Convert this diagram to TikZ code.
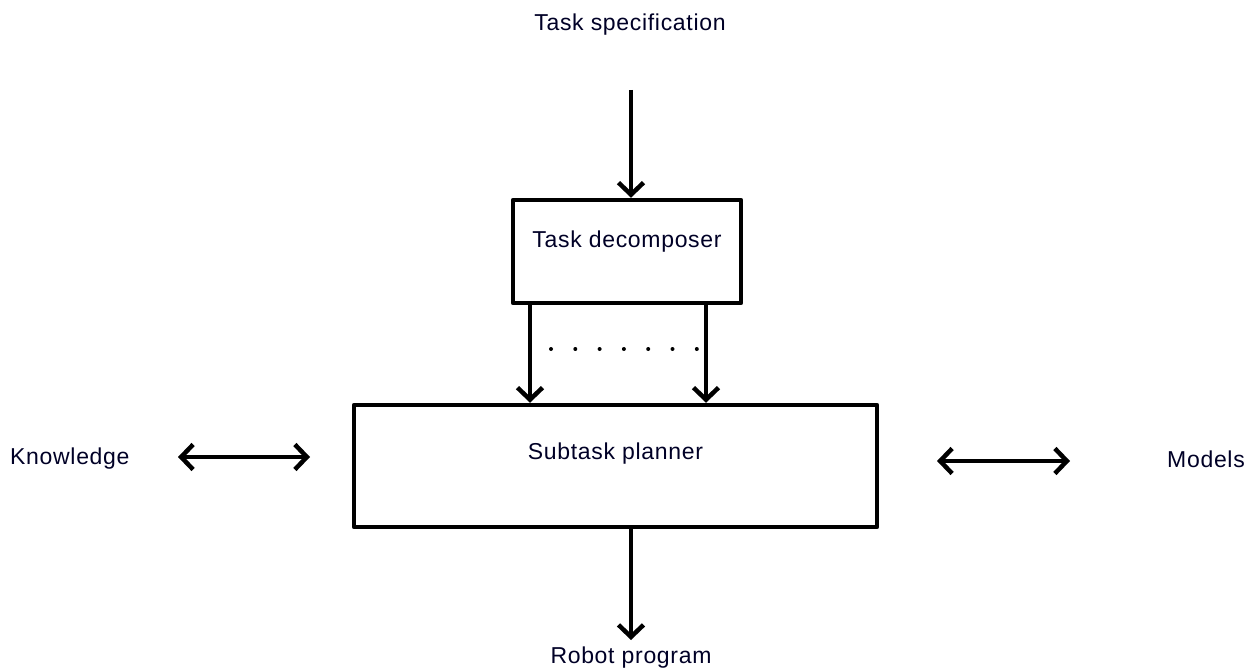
\documentclass[tikz,border=0pt]{standalone}
\usepackage{fontspec}
\setmainfont{Liberation Sans}[LetterSpace=3]
\usetikzlibrary{arrows.meta}
\begin{document}
\begin{tikzpicture}[x=1pt,y=-1pt,
  box/.style={draw, line width=4.5pt, inner sep=0pt, line join=round},
  lbl/.style={font=\fontsize{23}{27}\selectfont, text=black!85!blue, inner sep=0pt},
  tip/.tip={Straight Barb[length=12pt,width=25pt,line width=4.5pt]},
  arr/.style={line width=4.5pt, -tip},
  darr/.style={line width=4.5pt, tip-tip}
]
\useasboundingbox (0,0) rectangle (1252,671);

% blocks
\node[box, minimum width=228pt, minimum height=103pt] (dec) at (627,251.5) {};
\node[lbl] (dectext) at ([yshift=9.5pt]dec.center) {Task decomposer};
\node[box, minimum width=523pt, minimum height=122pt] (plan) at (615.5,466) {};
\node[lbl] (plantext) at ([yshift=12pt]plan.center) {Subtask planner};

% outer labels
\node[lbl] (spec) at (630,25) {Task specification};
\node[lbl, anchor=west] (know) at (10,459) {Knowledge};
\node[lbl, anchor=east] (models) at (1245,459) {Models};
\node[lbl] (robot) at (631,658) {Robot program};

% connector ends
\coordinate (specend) at (631,90);
\coordinate (kl) at (178,457);
\coordinate (kr) at (310,457);
\coordinate (ml) at (937,461);
\coordinate (mr) at (1070,461);
\coordinate (robend) at (631,640);
\coordinate (d1) at (530,0);
\coordinate (d2) at (706,0);

% connectors
\draw[arr] (specend) -- (specend |- dec.north);
\draw[arr] (d1 |- dec.south) -- (d1 |- plan.north);
\draw[arr] (d2 |- dec.south) -- (d2 |- plan.north);
\draw[arr] (robend |- plan.south) -- (robend);
\draw[darr] (kl) -- (kr);
\draw[darr] (ml) -- (mr);

% ellipsis between the two subtask arrows
\foreach \i in {0,...,6}
  \fill (551+24.3*\i,349) circle (2pt);
\end{tikzpicture}
\end{document}
